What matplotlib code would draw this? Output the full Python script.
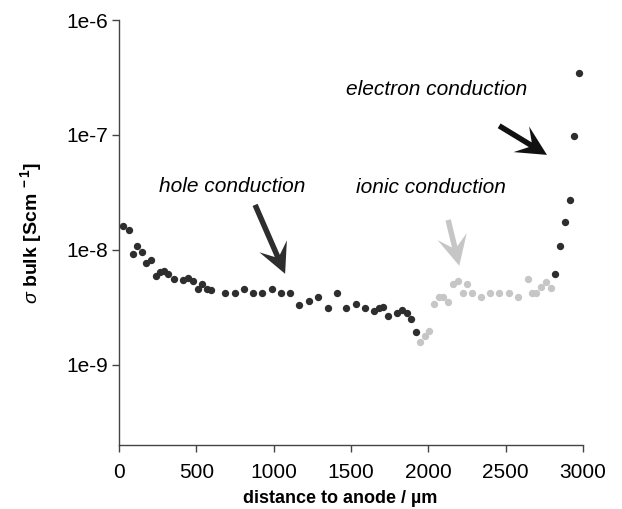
import numpy as np
import matplotlib
matplotlib.use("Agg")
import matplotlib.pyplot as plt
from matplotlib.patches import FancyArrow
from matplotlib.transforms import IdentityTransform

plt.rcParams['font.family'] = ['Liberation Sans', 'DejaVu Sans']
plt.rcParams['mathtext.fontset'] = 'custom'
plt.rcParams['mathtext.rm'] = 'Liberation Sans'
plt.rcParams['mathtext.it'] = 'Liberation Sans:italic'
plt.rcParams['mathtext.bf'] = 'Liberation Sans:bold'

# distance to anode (um) and bulk conductivity (S/cm)
hole_x = [28, 67, 91, 115, 147, 177, 207, 238, 265, 292, 320, 354, 414, 446,
          479, 514, 537, 567, 597, 687, 747, 807, 867, 926, 987, 1047, 1107,
          1167, 1228, 1287, 1351, 1410, 1470, 1531, 1591, 1650, 1682, 1710,
          1742, 1800, 1829, 1861, 1891, 1921]
hole_y = [16.2, 14.9, 9.2, 10.7, 9.5, 7.7, 8.1, 5.94, 6.35, 6.6, 6.18, 5.56,
          5.48, 5.71, 5.3, 4.55, 5.06, 4.55, 4.49, 4.2, 4.2, 4.56, 4.2, 4.2,
          4.56, 4.2, 4.2, 3.33, 3.56, 3.85, 3.14, 4.2, 3.12, 3.39, 3.12, 2.92,
          3.12, 3.15, 2.63, 2.8, 2.97, 2.81, 2.5, 1.92]
ionic_x = [1947, 1979, 2007, 2038, 2068, 2098, 2130, 2161, 2193, 2221, 2249,
           2280, 2340, 2400, 2460, 2519, 2581, 2642, 2670, 2698, 2728, 2761, 2793]
ionic_y = [1.57, 1.77, 1.95, 3.38, 3.9, 3.9, 3.49, 5.06, 5.4, 4.23, 5.06,
           4.23, 3.85, 4.23, 4.23, 4.23, 3.85, 5.6, 4.23, 4.23, 4.75, 5.21, 4.65]
electron_x = [2821, 2853, 2881, 2913, 2944, 2971]
electron_y = [6.15, 10.9, 17.6, 27.2, 98.6, 344]

yticks = [1e-9, 1e-8, 1e-7, 1e-6]
ytick_labels = ['1e-9', '1e-8', '1e-7', '1e-6']
xticks = [0, 500, 1000, 1500, 2000, 2500, 3000]

dark = '#2e2e2e'
grey = '#c6c6c6'

fig = plt.figure(figsize=(6.22, 5.09), dpi=100)
ax = fig.add_axes([0.1913, 0.1257, 0.746, 0.8350])

ax.scatter(hole_x, np.array(hole_y) * 1e-9, s=28, color=dark, lw=0, zorder=3)
ax.scatter(ionic_x, np.array(ionic_y) * 1e-9, s=28, color=grey, lw=0, zorder=3)
ax.scatter(electron_x, np.array(electron_y) * 1e-9, s=28, color=dark, lw=0, zorder=3)

ax.set_yscale('log')
ax.set_xlim(0, 3000)
ax.set_ylim(2.0e-10, 1e-6)
ax.set_yticks(yticks)
ax.set_yticklabels(ytick_labels)
ax.yaxis.set_minor_locator(matplotlib.ticker.NullLocator())
ax.set_xticks(xticks)
ax.tick_params(axis='both', labelsize=15, length=5, width=1, color='#444444', pad=3)
ax.tick_params(axis='x', pad=8)

for side in ['top', 'right']:
    ax.spines[side].set_visible(False)
for side in ['left', 'bottom']:
    ax.spines[side].set_color('#444444')
    ax.spines[side].set_linewidth(1)

ax.set_xlabel('distance to anode / µm', fontsize=13, fontweight='bold')
ax.xaxis.label.set_va('center')
ax.xaxis.set_label_coords(0.477, -0.125)
ax.set_ylabel(r'$\sigma$ $\mathbf{bulk\ [Scm^{\ -1}]}$', fontsize=14)
ax.yaxis.label.set_va('center')
ax.yaxis.set_label_coords(-0.19, 0.5)

ax.text(731, 3.53e-8, 'hole conduction', style='italic', fontsize=15,
        ha='center', va='center')
ax.text(2019, 3.46e-8, 'ionic conduction', style='italic', fontsize=15,
        ha='center', va='center')
ax.text(2051, 2.46e-7, 'electron conduction', style='italic', fontsize=15,
        ha='center', va='center')

# arrows drawn in pixel space so the heads keep their shape on the log axis
arrows = [((880, 2.46e-8), (1074, 6.18e-9), dark),
          ((2128, 1.82e-8), (2200, 7.26e-9), grey),
          ((2458, 1.2e-7), (2767, 6.7e-8), '#111111')]
for start, end, col in arrows:
    (x0, y0), (x1, y1) = ax.transData.transform([start, end])
    arr = FancyArrow(x0, y0, x1 - x0, y1 - y0, width=5.5, head_width=30,
                     head_length=30, overhang=0.35, length_includes_head=True,
                     color=col, lw=0, transform=IdentityTransform())
    fig.add_artist(arr)

fig.savefig('out.png', dpi=100)
